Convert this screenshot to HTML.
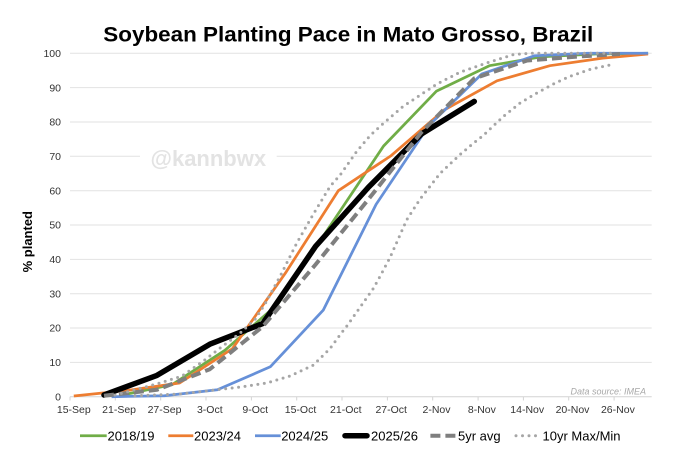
<!DOCTYPE html>
<html>
<head>
<meta charset="utf-8">
<style>
  html,body{margin:0;padding:0;background:#fff;}
  svg{display:block;}
  text{font-family:"Liberation Sans",Arial,sans-serif;}
</style>
</head>
<body>
<svg width="680" height="472" viewBox="0 0 680 472" xmlns="http://www.w3.org/2000/svg">
  <rect width="680" height="472" fill="#fff"/>
  <!-- title -->
  <text x="348.3" y="41.7" text-anchor="middle" font-size="21" font-weight="bold" fill="#000" textLength="490" lengthAdjust="spacingAndGlyphs">Soybean Planting Pace in Mato Grosso, Brazil</text>

  <!-- gridlines -->
  <g stroke="#e2e2e2" stroke-width="1">
    <line x1="70" y1="362.4" x2="651.7" y2="362.4"/>
    <line x1="70" y1="328.0" x2="651.7" y2="328.0"/>
    <line x1="70" y1="293.7" x2="651.7" y2="293.7"/>
    <line x1="70" y1="259.4" x2="651.7" y2="259.4"/>
    <line x1="70" y1="225.0" x2="651.7" y2="225.0"/>
    <line x1="70" y1="190.7" x2="651.7" y2="190.7"/>
    <line x1="70" y1="156.3" x2="651.7" y2="156.3"/>
    <line x1="70" y1="122.0" x2="651.7" y2="122.0"/>
    <line x1="70" y1="87.6" x2="651.7" y2="87.6"/>
    <line x1="70" y1="53.3" x2="651.7" y2="53.3"/>
  </g>
  <!-- axis line and ticks -->
  <g stroke="#d4d4d4" stroke-width="1">
    <line x1="70" y1="396.7" x2="651.7" y2="396.7"/>
    <line x1="70" y1="396.7" x2="70" y2="400.5"/>
    <line x1="115.3" y1="396.7" x2="115.3" y2="400.5"/>
    <line x1="160.7" y1="396.7" x2="160.7" y2="400.5"/>
    <line x1="206.0" y1="396.7" x2="206.0" y2="400.5"/>
    <line x1="251.4" y1="396.7" x2="251.4" y2="400.5"/>
    <line x1="296.7" y1="396.7" x2="296.7" y2="400.5"/>
    <line x1="342.0" y1="396.7" x2="342.0" y2="400.5"/>
    <line x1="387.4" y1="396.7" x2="387.4" y2="400.5"/>
    <line x1="432.7" y1="396.7" x2="432.7" y2="400.5"/>
    <line x1="478.1" y1="396.7" x2="478.1" y2="400.5"/>
    <line x1="523.4" y1="396.7" x2="523.4" y2="400.5"/>
    <line x1="568.7" y1="396.7" x2="568.7" y2="400.5"/>
    <line x1="614.1" y1="396.7" x2="614.1" y2="400.5"/>
  </g>

  <!-- watermark -->
  <rect x="140" y="148" width="136.7" height="18" fill="#fff"/>
  <text x="208.3" y="166" text-anchor="middle" font-size="22" font-weight="bold" fill="#e3e3e3">@kannbwx</text>

  <!-- y labels -->
  <g font-size="10.5" fill="#333" text-anchor="end">
    <text x="61" y="400.4">0</text>
    <text x="61" y="366.1">10</text>
    <text x="61" y="331.7">20</text>
    <text x="61" y="297.4">30</text>
    <text x="61" y="263.1">40</text>
    <text x="61" y="228.7">50</text>
    <text x="61" y="194.4">60</text>
    <text x="61" y="160.0">70</text>
    <text x="61" y="125.7">80</text>
    <text x="61" y="91.3">90</text>
    <text x="61" y="57.0">100</text>
  </g>
  <!-- x labels -->
  <g font-size="10.5" fill="#333" text-anchor="middle">
    <text x="73.8" y="413">15-Sep</text>
    <text x="119.1" y="413">21-Sep</text>
    <text x="164.5" y="413">27-Sep</text>
    <text x="209.8" y="413">3-Oct</text>
    <text x="255.2" y="413">9-Oct</text>
    <text x="300.5" y="413">15-Oct</text>
    <text x="345.8" y="413">21-Oct</text>
    <text x="391.2" y="413">27-Oct</text>
    <text x="436.5" y="413">2-Nov</text>
    <text x="481.9" y="413">8-Nov</text>
    <text x="527.2" y="413">14-Nov</text>
    <text x="572.5" y="413">20-Nov</text>
    <text x="617.9" y="413">26-Nov</text>
  </g>

  <!-- axis title -->
  <text transform="translate(32,241.7) rotate(-90)" text-anchor="middle" font-size="13" font-weight="bold" fill="#000">% planted</text>

  <!-- data source -->
  <text x="646" y="394.5" text-anchor="end" font-size="9" font-style="italic" fill="#a8a8a8">Data source: IMEA</text>

  <!-- series -->
  <g fill="none" stroke-linejoin="round">
    <polyline stroke="#70ad47" stroke-width="2.75" points="119.1,395.7 172.0,384.7 224.9,350.3 277.8,304.0 330.7,225.0 383.6,146.0 436.5,91.1 489.4,65.7 542.3,56.7 595.2,54.0 648.1,53.3"/>
    <polyline stroke="#ed7d31" stroke-width="2.75" points="73.8,396.0 126.7,390.5 179.6,383.0 232.5,348.6 285.4,273.1 338.3,190.7 391.2,155.6 444.1,110.0 497.0,80.8 549.9,65.7 602.8,58.1 648.1,54.0"/>
    <polyline stroke="#6690d8" stroke-width="2.75" points="111.6,396.7 164.5,395.7 217.4,389.8 270.3,366.8 323.2,310.2 376.1,204.4 429.0,125.4 481.9,73.9 534.8,55.7 587.7,53.3 648.1,53.3"/>
    <polyline stroke="#000" stroke-width="5.5" stroke-linecap="round" points="104.0,395.0 156.9,375.4 209.8,344.2 262.7,323.6 315.6,246.3 368.5,187.2 421.4,134.0 474.3,101.4"/>
    <polyline stroke="#7f7f7f" stroke-width="4" stroke-dasharray="10 5" points="104.0,395.7 156.9,389.8 209.8,369.2 262.7,326.6 315.6,264.5 368.5,199.2 421.4,132.3 474.3,78.4 527.2,60.5 580.1,56.4 620,54.0"/>
    <polyline stroke="#a6a6a6" stroke-width="3" stroke-linecap="round" stroke-dasharray="0 6.5" points="115,395.0 135,389.8 160,383.0 182,376.1 205,359.9 222,346.6 240,333.2 255,319.4 265,304.0 280,276.5 296.7,243.2 313,214.7 330,186.5 340,175.2 356.7,151.5 370,135.7 383,123.7 403,106.5 436.7,84.2 460,72.2 486.7,63.0 513,54.7 530,53.3 615,53.3"/>
    <polyline stroke="#a6a6a6" stroke-width="3" stroke-linecap="round" stroke-dasharray="0 6.5" points="135,395.7 180,394.0 216.7,389.8 240,387.1 266.7,383.0 290,376.1 313.3,365.1 330,348.6 340,334.9 346.7,326.3 360,307.4 373.3,288.5 380,276.5 390,257.6 406.7,219.9 420,199.2 440,173.5 460,154.6 473.3,143.3 483.3,135.4 503.3,116.5 520,103.1 536.7,93.1 555,83.2 570,76.3 590,69.4 615,63.9"/>
  </g>

  <!-- legend -->
  <g>
    <line x1="80" y1="435.7" x2="106.7" y2="435.7" stroke="#70ad47" stroke-width="2.75"/>
    <line x1="168.3" y1="435.7" x2="193.3" y2="435.7" stroke="#ed7d31" stroke-width="2.75"/>
    <line x1="255" y1="435.7" x2="280.7" y2="435.7" stroke="#6690d8" stroke-width="2.75"/>
    <line x1="345" y1="435.7" x2="367" y2="435.7" stroke="#000" stroke-width="5.5" stroke-linecap="round"/>
    <line x1="430.4" y1="435.7" x2="456.1" y2="435.7" stroke="#7f7f7f" stroke-width="4" stroke-dasharray="10 5"/>
    <line x1="516" y1="435.7" x2="541" y2="435.7" stroke="#a6a6a6" stroke-width="3" stroke-linecap="round" stroke-dasharray="0 6.5"/>
  </g>
  <g font-size="13" fill="#000">
    <text x="107.5" y="440.7">2018/19</text>
    <text x="194" y="440.7">2023/24</text>
    <text x="281.2" y="440.7">2024/25</text>
    <text x="371" y="440.7">2025/26</text>
    <text x="458" y="440.7">5yr avg</text>
    <text x="542.5" y="440.7">10yr Max/Min</text>
  </g>
</svg>
</body>
</html>
